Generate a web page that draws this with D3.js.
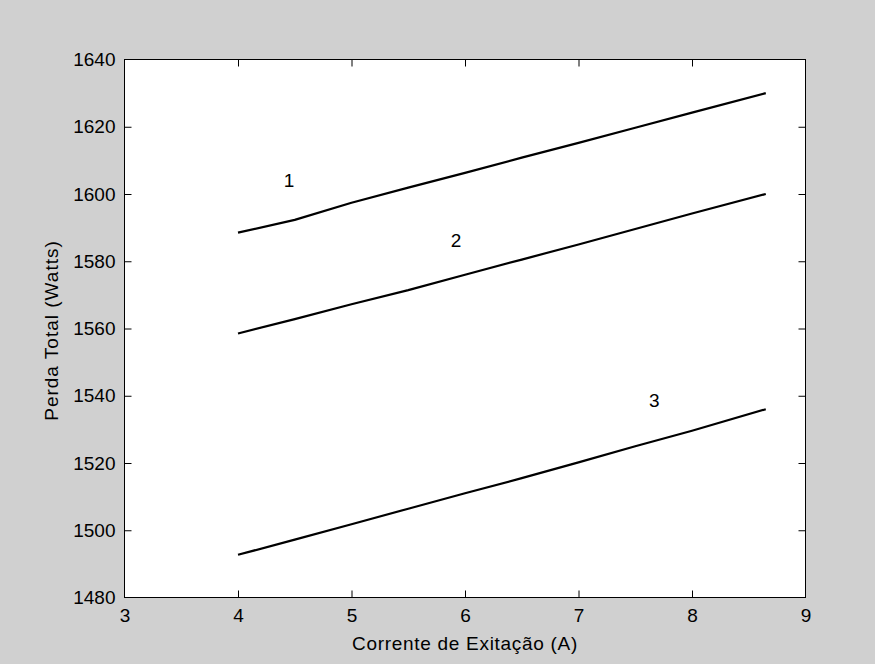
<!DOCTYPE html>
<html>
<head>
<meta charset="utf-8">
<script src="https://cdn.jsdelivr.net/npm/d3@7"></script>
<style>
  html, body { margin: 0; padding: 0; background: #d0d0d0; }
  svg { display: block; }
  text { font-family: "Liberation Sans", Arial, sans-serif; fill: #000; }
</style>
</head>
<body>
<svg id="chart" width="875" height="664"></svg>
<script>
// ---- data ----
const xValues = [4, 4.5, 5, 5.5, 6, 6.5, 7, 7.5, 8, 8.65];
const series1 = [1588.5, 1592.3, 1597.4, 1601.9, 1606.3, 1610.8, 1615.2, 1619.7, 1624.2, 1630];
const series2 = [1558.5, 1562.8, 1567.2, 1571.4, 1576, 1580.5, 1585, 1589.6, 1594.2, 1600];
const series3 = [1492.7, 1497.2, 1501.8, 1506.4, 1511, 1515.5, 1520.2, 1525, 1529.6, 1536];
const seriesNames = ["1", "2", "3"];
const labelX = [4.403, 5.874, 7.621];
const labelY = [1604.0, 1586.3, 1538.5];
const xTicks = [3, 4, 5, 6, 7, 8, 9];
const yTicks = [1480, 1500, 1520, 1540, 1560, 1580, 1600, 1620, 1640];
const xLabel = "Corrente de Exitação (A)";
const yLabel = "Perda Total (Watts)";

// ---- layout ----
const L = 124.5, R = 805.5, T = 59.5, B = 597.5;
const svg = d3.select("#chart");
const x = d3.scaleLinear().domain([3, 9]).range([L, R]);
const y = d3.scaleLinear().domain([1480, 1640]).range([B, T]);

svg.append("rect").attr("x", L).attr("y", T).attr("width", R - L).attr("height", B - T)
  .attr("fill", "#fff");

const fs = "19px";
const tick = 7;

// bottom axis
const gx = svg.append("g").attr("transform", `translate(0,${B})`)
  .call(d3.axisBottom(x).tickValues(xTicks).tickFormat(d3.format("d"))
    .tickSizeInner(-tick).tickSizeOuter(0).tickPadding(11));
// top axis (ticks only)
const gxt = svg.append("g").attr("transform", `translate(0,${T})`)
  .call(d3.axisTop(x).tickValues(xTicks).tickFormat("")
    .tickSizeInner(-tick).tickSizeOuter(0));
// left axis
const gy = svg.append("g").attr("transform", `translate(${L},0)`)
  .call(d3.axisLeft(y).tickValues(yTicks).tickFormat(d3.format("d"))
    .tickSizeInner(-tick).tickSizeOuter(0).tickPadding(9));
// right axis (ticks only)
const gyr = svg.append("g").attr("transform", `translate(${R},0)`)
  .call(d3.axisRight(y).tickValues(yTicks).tickFormat("")
    .tickSizeInner(-tick).tickSizeOuter(0));

[gx, gxt, gy, gyr].forEach(g => {
  g.select(".domain").remove();
  g.selectAll(".tick line").attr("stroke", "#000").attr("stroke-width", 1);
  g.selectAll(".tick text").style("font-size", fs).attr("fill", "#000")
    .style("font-family", "'Liberation Sans', Arial, sans-serif");
});
// hide end ticks at the frame corners
gx.selectAll(".tick").filter(d => d === 3 || d === 9).select("line").remove();
gxt.selectAll(".tick").filter(d => d === 3 || d === 9).select("line").remove();
gy.selectAll(".tick").filter(d => d === 1480 || d === 1640).select("line").remove();
gyr.selectAll(".tick").filter(d => d === 1480 || d === 1640).select("line").remove();

// frame
svg.append("rect").attr("x", L).attr("y", T).attr("width", R - L).attr("height", B - T)
  .attr("fill", "none").attr("stroke", "#000").attr("stroke-width", 1);

// lines
const line = d3.line().x((d, i) => x(xValues[i])).y(d => y(d));
[series1, series2, series3].forEach(s => {
  svg.append("path").datum(s).attr("d", line)
    .attr("fill", "none").attr("stroke", "#000").attr("stroke-width", 2.2)
    .attr("stroke-linejoin", "round");
});

// curve labels
seriesNames.forEach((n, i) => {
  svg.append("text").attr("x", x(labelX[i])).attr("y", y(labelY[i]))
    .attr("dominant-baseline", "central").style("font-size", fs).text(n);
});

// axis labels
svg.append("text").attr("x", (L + R) / 2).attr("y", 650)
  .attr("text-anchor", "middle").style("font-size", fs)
  .style("letter-spacing", "0.7px").text(xLabel);
svg.append("text").attr("transform", `translate(58,${(T + B) / 2 + 2}) rotate(-90)`)
  .attr("text-anchor", "middle").style("font-size", fs)
  .style("letter-spacing", "1px").text(yLabel);
</script>
</body>
</html>
